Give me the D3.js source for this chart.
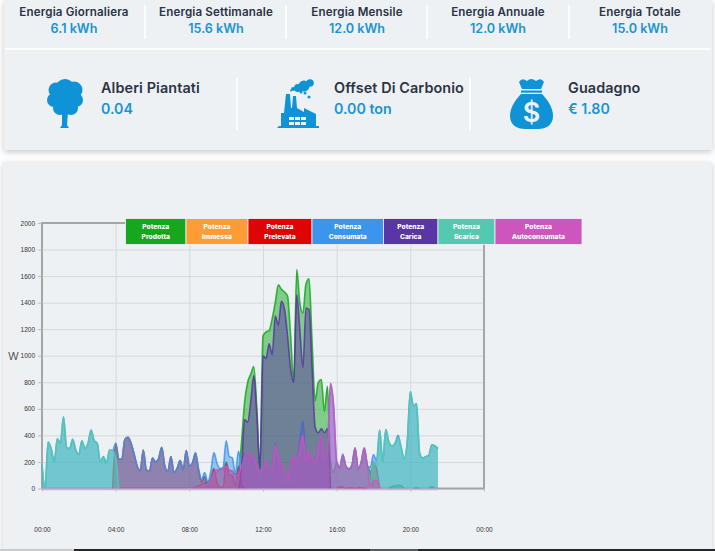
<!doctype html>
<html>
<head>
<title>Potenza</title>
<script src="https://d3js.org/d3.v7.min.js"></script>
<style>
body { margin: 0; background: #fff; overflow: hidden; }
svg { display: block; font-family: Inter, "Noto Sans", sans-serif; }
.grid line { stroke: #d5d8dc; stroke-width: 1; }
.grid path { display: none; }
.axis text { fill: #333; font-size: 6.5px; }
.axis line { stroke: #bbb; }
.axis path { display: none; }
</style>
</head>
<body>
<svg id="chart" width="715" height="551"></svg>
<script>
// top stats
var statTitles = ["Energia Giornaliera", "Energia Settimanale", "Energia Mensile", "Energia Annuale", "Energia Totale"];
var statValues = ["6.1 kWh", "15.6 kWh", "12.0 kWh", "12.0 kWh", "15.0 kWh"];
var statCenters = [74, 216, 357, 498, 640];
var bigTitles = ["Alberi Piantati", "Offset Di Carbonio", "Guadagno"];
var bigValues = ["0.04", "0.00 ton", "€ 1.80"];
var bigLefts = [101, 334, 568];

// readings every 10 minutes, 00:00 to 21:30
var prodotta = [
  0,0,0,0,0,0,0,0,0,0,0,0,0,0,0,0,0,0,0,0,0,0,0,0,
  0,0,0,0,0,0,0,0,0,0,0,0,0,0,0,0,0,0,0,0,0,0,0,0,
  0,0,10,20,30,40,50,70,140,120,150,140,200,130,130,110,120,350,650,800,860,918,600,150,
  1150,1180,1190,1280,1400,1535,1500,1480,1450,1150,800,1650,1400,1320,1540,1580,1100,660,800,820,580,770,200,120,
  200,150,250,165,145,175,305,145,195,305,170,120,0,0,0,0,0,0,15,20,25,20,0,0,
  0,0,5,0,0,0,0,15,0,0];
var immessa = [
  0,0,0,0,0,0,0,0,0,0,0,0,0,0,0,0,0,0,0,0,0,0,0,0,
  0,0,0,0,0,0,0,0,0,0,0,0,0,0,0,0,0,0,0,0,0,0,0,0,
  0,0,0,0,0,0,0,0,0,0,0,0,0,0,0,0,0,0,0,0,0,0,0,0,
  0,0,0,0,0,0,0,0,0,0,0,0,0,0,0,0,0,0,0,0,0,0,0,0,
  0,0,0,0,0,0,0,0,0,0,0,0,0,0,0,0,0,0,0,0,0,0,0,0,
  0,0,0,0,0,0,0,0,0,0];
var prelevata = [
  0,0,0,0,0,0,0,0,0,0,0,0,0,0,0,0,0,0,0,0,0,0,0,0,
  340,225,220,370,385,340,260,170,135,290,140,130,230,200,225,310,170,130,240,120,150,210,140,285,
  170,190,265,140,50,90,20,70,150,50,10,10,190,100,100,20,170,30,0,0,0,0,0,0,
  0,0,0,0,0,0,0,0,0,0,0,0,0,0,0,0,0,0,0,0,0,0,0,0,
  0,10,10,0,5,5,0,5,5,0,0,60,200,150,0,0,0,0,0,0,0,0,0,0,
  0,0,0,0,0,0,0,0,0,0];
var consumata = [
  180,0,350,300,200,375,340,540,310,300,370,290,255,360,300,340,440,360,340,200,240,190,290,285,
  340,225,220,370,385,340,260,170,135,290,140,130,230,200,225,310,170,130,240,120,150,210,140,285,
  170,190,270,150,70,120,50,130,270,190,150,160,360,240,230,110,280,190,260,270,250,240,170,120,
  140,215,150,140,340,240,190,140,60,180,240,200,350,510,200,280,240,180,300,400,210,290,790,620,
  200,160,260,170,150,180,305,150,200,305,170,160,255,210,440,200,445,350,320,340,400,310,225,350,
  730,620,640,270,230,240,250,330,320,300];
var carica = [
  0,0,0,0,0,0,0,0,0,0,0,0,0,0,0,0,0,0,0,0,0,0,0,0,
  0,0,0,0,0,0,0,0,0,0,0,0,0,0,0,0,0,0,0,0,0,0,0,0,
  0,0,0,0,0,0,0,0,0,0,0,0,0,0,0,0,0,150,520,500,650,850,550,150,
  1000,980,1090,1010,1300,1230,1410,1350,1150,900,800,1460,1200,910,1360,1350,900,460,420,450,420,450,0,0,
  0,0,0,0,0,0,0,0,0,0,0,0,0,0,0,0,0,0,0,0,0,0,0,0,
  0,0,0,0,0,0,0,0,0,0];
var scarica = [
  180,0,350,300,200,375,340,540,310,300,370,290,255,360,300,340,440,360,340,200,240,190,290,285,
  230,0,0,0,0,0,0,0,0,0,0,0,0,0,0,0,0,0,0,0,0,0,0,0,
  0,0,0,0,0,0,0,0,0,0,0,0,0,0,0,0,0,0,0,0,0,0,0,0,
  0,0,0,0,0,0,0,0,0,0,0,0,0,0,0,0,0,0,0,0,0,0,0,0,
  0,0,0,0,0,0,0,0,0,0,0,40,200,170,440,200,445,350,320,335,380,310,225,350,
  730,620,640,270,230,240,250,330,320,300];
var autoconsumo = [
  0,0,0,0,0,0,0,0,0,0,0,0,0,0,0,0,0,0,0,0,0,0,0,0,
  0,0,0,0,0,0,0,0,0,0,0,0,0,0,0,0,0,0,0,0,0,0,0,0,
  0,0,5,10,20,30,30,60,120,140,140,150,170,140,130,90,110,160,240,270,250,240,170,120,
  140,215,150,140,330,240,190,140,60,180,240,200,300,400,200,280,240,180,300,400,210,290,790,620,
  200,150,250,165,145,175,305,145,195,305,170,20,55,60,0,0,0,0,0,0,0,0,0,0,
  0,0,0,0,0,0,0,0,0,0];

var seriesNames = ["Potenza Prodotta", "Potenza Immessa", "Potenza Prelevata", "Potenza Consumata", "Potenza Carica", "Potenza Scarica", "Potenza Autoconsumata"];
var seriesColors = ["#15a81e", "#ff9c38", "#de0404", "#3c95ec", "#5a35a5", "#53c9b0", "#cd55bd"];
var seriesData = [prodotta, immessa, prelevata, consumata, carica, scarica, autoconsumo];
var seriesAlpha = [0.5, 0.5, 0.55, 0.5, 0.5, 0.52, 0.5];

var yTicks = [0, 200, 400, 600, 800, 1000, 1200, 1400, 1600, 1800, 2000];
var xTicks = [0, 4, 8, 12, 16, 20, 24];
var xLabels = ["00:00", "04:00", "08:00", "12:00", "16:00", "20:00", "00:00"];

var legendEdges = [125.5, 186, 248, 312, 383.5, 438, 495, 582];

var svg = d3.select("#chart");
var blue = "#1893d6", dark = "#2b3445", cardBg = "#eef1f4";

// cards
svg.selectAll("rect.card").data([[4, 0, 708, 150], [3, 162, 709, 392]]).enter().append("rect")
  .attr("class", "card")
  .attr("x", d => d[0]).attr("y", d => d[1]).attr("width", d => d[2]).attr("height", d => d[3])
  .attr("fill", cardBg)
  .style("filter", "drop-shadow(0 2px 3px rgba(0,0,0,0.22))");

// separators
var white = svg.append("g").attr("stroke", "#fff").attr("stroke-width", 1.5);
white.append("line").attr("x1", 5).attr("x2", 711).attr("y1", 49).attr("y2", 49);
[145, 286, 427, 569].forEach(function(x) {
  white.append("line").attr("x1", x).attr("x2", x).attr("y1", 5).attr("y2", 39);
});
[237, 470].forEach(function(x) {
  white.append("line").attr("x1", x).attr("x2", x).attr("y1", 78).attr("y2", 130);
});

statTitles.forEach(function(t, i) {
  svg.append("text").attr("x", statCenters[i]).attr("y", 16).attr("text-anchor", "middle")
    .attr("font-size", 11.6).attr("letter-spacing", 0.15).attr("font-weight", 600).attr("fill", dark).text(t);
  svg.append("text").attr("x", statCenters[i]).attr("y", 33).attr("text-anchor", "middle")
    .attr("font-size", 12.6).attr("font-weight", 600).attr("fill", blue).text(statValues[i]);
});
bigTitles.forEach(function(t, i) {
  svg.append("text").attr("x", bigLefts[i]).attr("y", 93)
    .attr("font-size", 14.4).attr("letter-spacing", 0.1).attr("font-weight", 600).attr("fill", dark).text(t);
  svg.append("text").attr("x", bigLefts[i]).attr("y", 114)
    .attr("font-size", 14.2).attr("font-weight", 600).attr("fill", blue).text(bigValues[i]);
});

// icons
var tree = svg.append("g").attr("fill", "#0f92d6");
[[65, 89, 10], [56, 90, 7.5], [74, 90, 8.5], [54, 100, 7], [76, 100, 7], [65, 100, 13], [60, 108, 7], [71, 108, 7]].forEach(function(c) {
  tree.append("circle").attr("cx", c[0]).attr("cy", c[1]).attr("r", c[2]);
});
tree.append("path").attr("d", "M62 112 L68 112 L67 125 L69 128 L60 128 L62 125 Z");

var factory = svg.append("g").attr("fill", "#0f92d6");
factory.append("path").attr("d", "M279 126 L281 126 L281 113 L284 113 L286 94 L290 94 L291 108 L292 108 L293 96 L296 96 L297 108 L304 112 L304 108 L312 112 L316 114 L316 126 L319 126 L319 128 L277 128 Z");
[[304, 86, 5.5], [310, 83, 3.8], [298, 88, 4], [293, 89, 2], [291, 90.5, 1], [305, 93, 1.5], [309, 97, 1.5], [301, 92, 1.5]].forEach(function(c) {
  factory.append("circle").attr("cx", c[0]).attr("cy", c[1]).attr("r", c[2]);
});
[[289, 117], [295, 117], [301, 117], [289, 122], [295, 122], [301, 122]].forEach(function(c) {
  svg.append("rect").attr("x", c[0]).attr("y", c[1]).attr("width", 5).attr("height", 3).attr("fill", cardBg);
});

var bag = svg.append("g").attr("fill", "#0f92d6");
bag.append("path").attr("d", "M519 82 Q522 77 527 81 Q531 77 536 81 Q541 77 544 82 L541 89 L522 89 Z");
bag.append("rect").attr("x", 521).attr("y", 90.5).attr("width", 21).attr("height", 2.2);
bag.append("path").attr("d", "M521 94 L542 94 C549 101 553 109 553 116 C553 125 546 129 538 129 L525 129 C517 129 510 125 510 116 C510 109 514 101 521 94 Z");
svg.append("text").attr("x", 531.5).attr("y", 122).attr("text-anchor", "middle")
  .attr("font-size", 27).attr("font-weight", 600).attr("fill", cardBg).text("$");

// chart
var x = d3.scaleLinear().domain([0, 24]).range([42, 484]);
var y = d3.scaleLinear().domain([0, 2000]).range([488.5, 223]);

svg.append("g").attr("class", "grid").attr("transform", "translate(42,0)")
  .call(d3.axisLeft(y).tickValues(yTicks).tickSize(-442).tickFormat(""));
svg.append("g").attr("class", "grid").attr("transform", "translate(0,488.5)")
  .call(d3.axisBottom(x).tickValues(xTicks).tickSize(-265.5).tickFormat(""));

// frame goes under the areas
svg.append("path")
  .attr("d", "M42 223 H484 V488.5 H42 Z")
  .attr("fill", "none").attr("stroke", "#a3a5a8").attr("stroke-width", 2);

var area = d3.area().x((d, i) => x(i / 6)).y0(y(0)).y1(d => y(d)).curve(d3.curveMonotoneX);
// no stroke where a series sits flat on zero
var line = d3.line().x((d, i) => x(i / 6)).y(d => y(d)).curve(d3.curveMonotoneX)
  .defined((d, i, a) => d > 0 || a[i - 1] > 0 || a[i + 1] > 0);

seriesData.forEach(function(values, i) {
  svg.append("path").datum(values).attr("d", area)
    .attr("fill", seriesColors[i]).attr("fill-opacity", seriesAlpha[i]);
  svg.append("path").datum(values).attr("d", line)
    .attr("fill", "none").attr("stroke", seriesColors[i]).attr("stroke-width", 1.6).attr("stroke-opacity", 0.85);
});

// pale zero line as far as the readings go
svg.append("line").attr("x1", x(0)).attr("x2", x(21.5)).attr("y1", y(0) + 0.8).attr("y2", y(0) + 0.8)
  .attr("stroke", "#cfaed9").attr("stroke-width", 1.8);

svg.append("g").attr("class", "axis").attr("transform", "translate(42,0)")
  .call(d3.axisLeft(y).tickValues(yTicks).tickSize(4).tickPadding(3).tickFormat(d3.format("d")));
svg.append("g").attr("class", "axis").attr("transform", "translate(0,488.5)")
  .call(d3.axisBottom(x).tickValues(xTicks).tickSize(3).tickPadding(36).tickFormat((d, i) => xLabels[i]));

svg.append("text").attr("x", 8).attr("y", 360).attr("font-size", 11).attr("fill", "#555").text("W");

// legend
seriesNames.forEach(function(name, i) {
  var x0 = legendEdges[i], x1 = legendEdges[i + 1];
  svg.append("rect").attr("x", x0).attr("y", 218.5).attr("width", x1 - x0).attr("height", 26)
    .attr("fill", seriesColors[i]).attr("stroke", "#f4f5f7").attr("stroke-width", 0.8);
  name.split(" ").forEach(function(word, j) {
    svg.append("text").attr("x", (x0 + x1) / 2).attr("y", 229.3 + j * 10).attr("text-anchor", "middle")
      .attr("font-size", 6.7).attr("font-weight", 800).attr("fill", "#fff").text(word);
  });
});

// strip along the bottom edge of the screenshot
svg.append("rect").attr("x", 0).attr("y", 549).attr("width", 74).attr("height", 2).attr("fill", "#c9c9c9");
svg.append("rect").attr("x", 74).attr("y", 549).attr("width", 641).attr("height", 2).attr("fill", "#23262a");
svg.append("rect").attr("x", 370).attr("y", 549).attr("width", 48).attr("height", 2).attr("fill", "#55585c");
</script>
</body>
</html>
